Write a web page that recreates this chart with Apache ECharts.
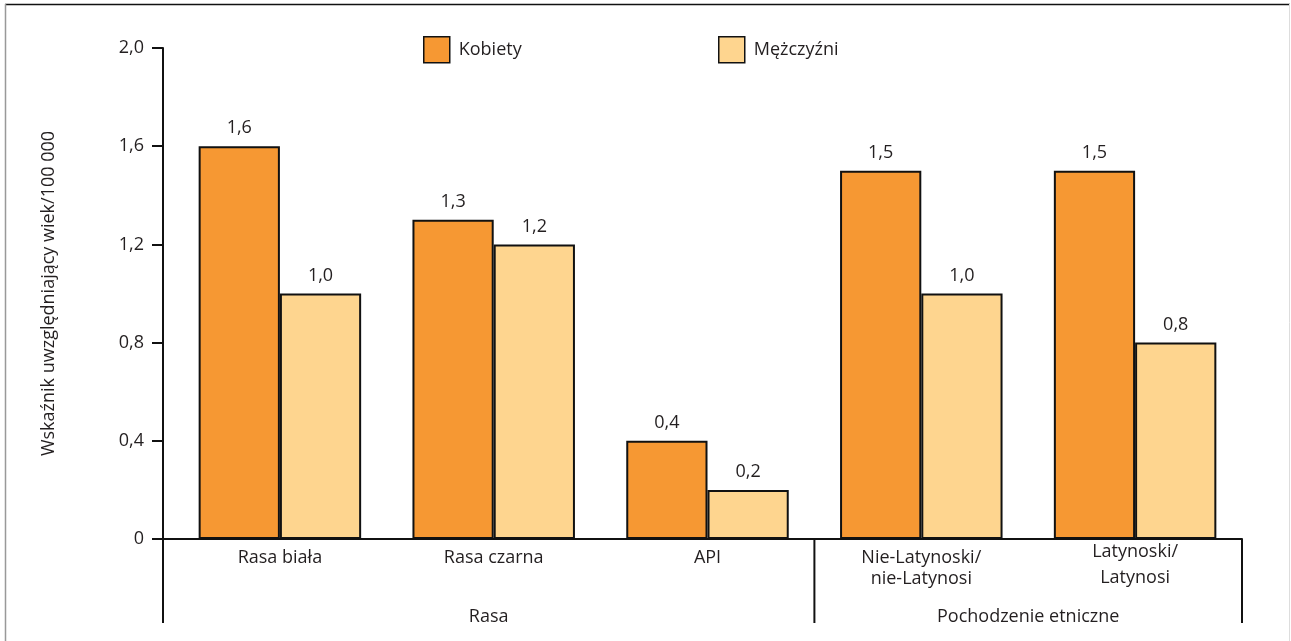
<!DOCTYPE html>
<html>
<head>
<meta charset="utf-8">
<script src="https://cdn.jsdelivr.net/npm/echarts@6/dist/echarts.min.js"></script>
<style>
  html, body { margin: 0; padding: 0; background: #fff; }
  #chart { width: 1291px; height: 641px; }
</style>
</head>
<body>
<div id="chart"></div>
<script>
// Categories, grouped under two headings
const categories = ['Rasa biała', 'Rasa czarna', 'API', 'Nie-Latynoski/\nnie-Latynosi', 'Latynoski/\nLatynosi'];
const groups = [
  { name: 'Rasa', count: 3 },
  { name: 'Pochodzenie etniczne', count: 2 }
];
const seriesNames = ['Kobiety', 'Mężczyźni'];
const kobiety = [1.6, 1.3, 0.4, 1.5, 1.5];
const mezczyzni = [1.0, 1.2, 0.2, 1.0, 0.8];
const yTicks = { min: 0, max: 2.0, interval: 0.4 };
const yName = 'Wskaźnik uwzględniający wiek/100 000';

const FONT = 'Open Sans';
const TEXT = '#231f20';
const LINE = '#111';
const GRID_LEFT = 173;
const Y_OFFSET = 10;

const fmt = v => (v === 0 ? '0' : v.toFixed(1).replace('.', ','));

const chart = echarts.init(document.getElementById('chart'), null, { renderer: 'canvas' });

const catData = categories.map(c => {
  if (c.startsWith('Latynoski')) {
    return { value: c, textStyle: { lineHeight: 26, padding: [-8, 0, 0, 0] } };
  }
  return c;
});

const legendCommon = {
  top: 36,
  padding: 0,
  icon: 'rect',
  itemWidth: 26,
  itemHeight: 26,
  selectedMode: false,
  itemStyle: { borderColor: LINE, borderWidth: 1.5 },
  textStyle: { fontFamily: FONT, fontSize: 18, color: TEXT, padding: [0, 0, 0, 4] }
};

chart.setOption({
  animation: false,
  backgroundColor: '#fff',
  textStyle: { fontFamily: FONT },
  legend: [
    Object.assign({ left: 423, data: [seriesNames[0]] }, legendCommon),
    Object.assign({ left: 718, data: [seriesNames[1]] }, legendCommon)
  ],
  grid: { left: GRID_LEFT, right: 49, top: 48, bottom: 102, containLabel: false },
  xAxis: {
    type: 'category',
    data: catData,
    axisLine: { show: true, lineStyle: { color: LINE, width: 2 } },
    axisTick: { show: false },
    axisLabel: {
      interval: 0, margin: 8, fontFamily: FONT, fontSize: 18, color: TEXT, lineHeight: 21
    },
    splitLine: { show: false }
  },
  yAxis: {
    type: 'value',
    min: yTicks.min, max: yTicks.max, interval: yTicks.interval,
    offset: Y_OFFSET,
    name: yName,
    nameLocation: 'middle',
    nameGap: 105,
    nameTextStyle: { fontFamily: FONT, fontSize: 18, color: TEXT },
    axisLine: { show: true, lineStyle: { color: LINE, width: 2 } },
    axisTick: { show: true, inside: false, length: 11, lineStyle: { color: LINE, width: 2 } },
    axisLabel: { formatter: fmt, margin: 19, fontFamily: FONT, fontSize: 18, color: TEXT },
    splitLine: { show: false }
  },
  series: [
    {
      name: seriesNames[0], type: 'bar', data: kobiety,
      barGap: '0%', barCategoryGap: '24%',
      itemStyle: { color: '#F69833', borderColor: LINE, borderWidth: 2 },
      label: { show: true, position: 'top', distance: 9, formatter: p => fmt(p.value),
               fontFamily: FONT, fontSize: 18, color: TEXT }
    },
    {
      name: seriesNames[1], type: 'bar', data: mezczyzni,
      barGap: '0%', barCategoryGap: '24%',
      itemStyle: { color: '#FED58F', borderColor: LINE, borderWidth: 2 },
      label: { show: true, position: 'top', distance: 9, formatter: p => fmt(p.value),
               fontFamily: FONT, fontSize: 18, color: TEXT }
    }
  ]
});

// Bracket lines and group headings under the category axis
function drawBrackets() {
  const y0 = chart.convertToPixel({ yAxisIndex: 0 }, 0);
  const cx = categories.map(c => chart.convertToPixel({ xAxisIndex: 0 }, c));
  const band = cx[1] - cx[0];
  const axisX = GRID_LEFT - Y_OFFSET;
  const yBottom = y0 + 84;

  const edges = [axisX];
  let idx = 0;
  groups.forEach(g => {
    idx += g.count;
    edges.push(idx < categories.length ? (cx[idx - 1] + cx[idx]) / 2 : cx[idx - 1] + band / 2);
  });

  const elements = [
    // page frame
    { type: 'line', shape: { x1: 5, y1: 4.5, x2: 1290, y2: 4.5 }, style: { stroke: '#111', lineWidth: 1.5 } },
    { type: 'line', shape: { x1: 5.5, y1: 4, x2: 5.5, y2: 641 }, style: { stroke: '#999', lineWidth: 1.5 } },
    { type: 'line', shape: { x1: 1289.5, y1: 4, x2: 1289.5, y2: 641 }, style: { stroke: '#ddd', lineWidth: 1 } },
    // join of the two axes
    { type: 'line', shape: { x1: axisX, y1: y0, x2: GRID_LEFT, y2: y0 }, style: { stroke: LINE, lineWidth: 2 } }
  ];
  edges.forEach(x => {
    elements.push({ type: 'line', shape: { x1: x, y1: y0, x2: x, y2: yBottom }, style: { stroke: LINE, lineWidth: 2 } });
  });
  groups.forEach((g, i) => {
    elements.push({
      type: 'text',
      x: (edges[i] + edges[i + 1]) / 2,
      y: y0 + 78,
      style: { text: g.name, fontFamily: FONT, fontSize: 18, fill: TEXT, align: 'center', verticalAlign: 'middle' }
    });
  });
  chart.setOption({ graphic: { elements } });
}
drawBrackets();
</script>
</body>
</html>
